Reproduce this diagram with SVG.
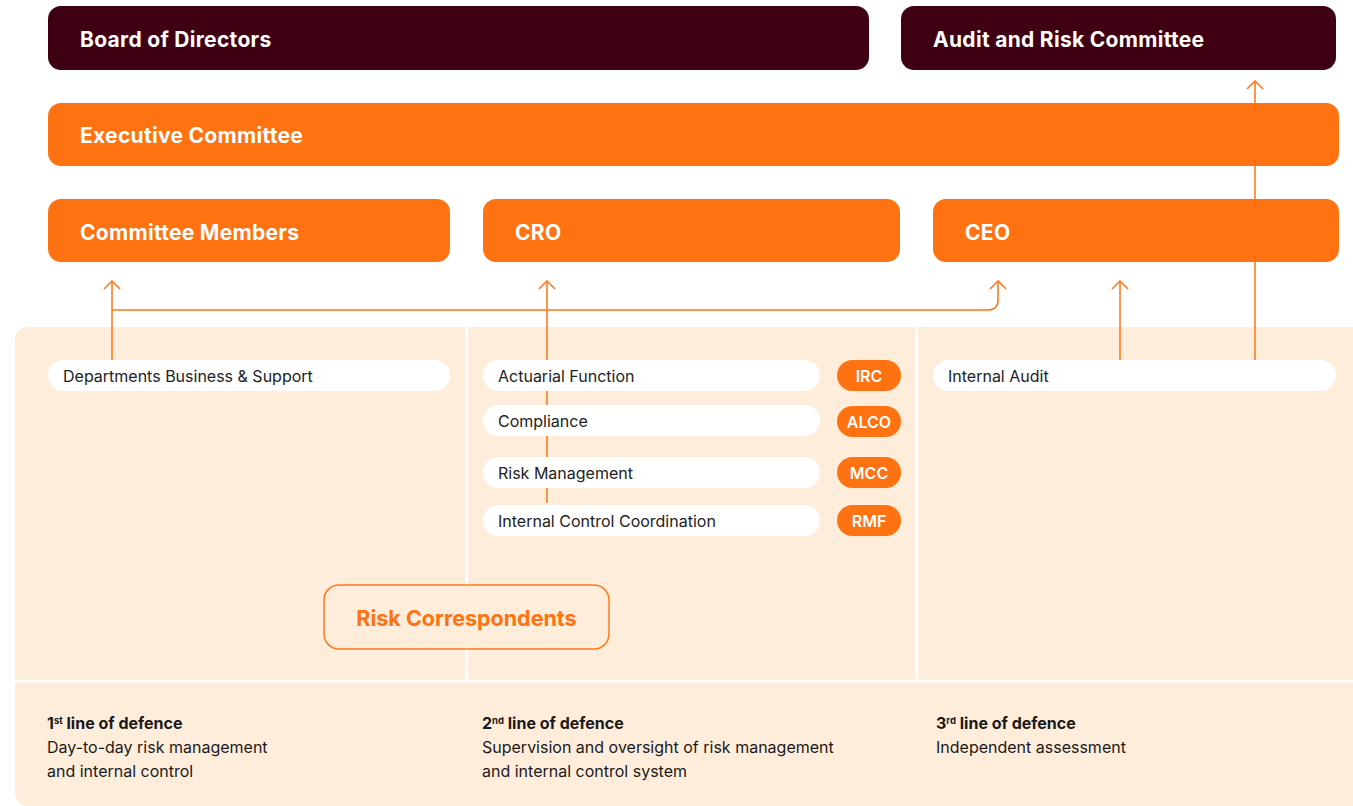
<svg xmlns="http://www.w3.org/2000/svg" width="1353" height="806" viewBox="0 0 1353 806">
  <defs>
    <style>
      .dark { fill: #3f0013; }
      .org { fill: #ff7212; }
      .pill { fill: #ffffff; }
      .head { font-family: Inter, "Noto Sans", "Liberation Sans", sans-serif; font-weight: 700; font-size: 21px; letter-spacing: 0.3px; fill: #ffffff; }
      .item { font-family: Inter, "Noto Sans", "Liberation Sans", sans-serif; font-size: 16px; fill: #222222; }
      .badge { font-family: Inter, "Noto Sans", "Liberation Sans", sans-serif; font-weight: 600; font-size: 16px; fill: #ffffff; text-anchor: middle; }
      .ttl { font-family: Inter, "Noto Sans", "Liberation Sans", sans-serif; font-weight: 700; font-size: 16px; fill: #1a1a1a; }
      .txt { font-family: Inter, "Noto Sans", "Liberation Sans", sans-serif; font-size: 16px; fill: #1a1a1a; }
      .sup { font-size: 9.5px; }
      .wire { fill: none; stroke: #ff7a1f; stroke-width: 1.6; }
    </style>
    <!-- open chevron head, drawn pointing along +x so orient="auto" follows the line -->
    <marker id="open" viewBox="0 0 10 18" refX="9" refY="9" markerWidth="10" markerHeight="18" markerUnits="userSpaceOnUse" orient="auto">
      <path d="M1 1 L9 9 L1 17" fill="none" stroke="#ff7a1f" stroke-width="1.6"/>
    </marker>
  </defs>

  <rect width="1353" height="806" fill="#ffffff"/>

  <!-- lower panel with the three lines of defence -->
  <g id="panel">
    <path d="M29 327 H1353 V806 H29 Q15 806 15 792 V341 Q15 327 29 327 Z" fill="#ffeddc"/>
    <line x1="466.5" y1="327" x2="466.5" y2="680" stroke="#ffffff" stroke-width="2.5"/>
    <line x1="916.5" y1="327" x2="916.5" y2="680" stroke="#ffffff" stroke-width="2.5"/>
    <line x1="15" y1="681" x2="1353" y2="681" stroke="#ffffff" stroke-width="2.5"/>
  </g>

  <!-- connectors -->
  <g id="connectors">
    <path class="wire" d="M112 360 V281" marker-end="url(#open)"/>
    <path class="wire" d="M112 310 H988 Q998 310 998 300 V281" marker-end="url(#open)"/>
    <path class="wire" d="M547 503 V281" marker-end="url(#open)"/>
    <path class="wire" d="M1120 360 V281" marker-end="url(#open)"/>
    <path class="wire" d="M1255 360 V81" marker-end="url(#open)"/>
  </g>

  <g id="board">
    <rect class="dark" x="48" y="6" width="821" height="64" rx="13"/>
    <text class="head" x="80" y="47">Board of Directors</text>
  </g>
  <g id="audit-risk-committee">
    <rect class="dark" x="901" y="6" width="435" height="64" rx="13"/>
    <text class="head" x="933" y="47">Audit and Risk Committee</text>
  </g>
  <g id="executive-committee">
    <rect class="org" x="48" y="103" width="1291" height="63" rx="13"/>
    <text class="head" x="80" y="143">Executive Committee</text>
  </g>
  <g id="committee-members">
    <rect class="org" x="48" y="199" width="402" height="63" rx="13"/>
    <text class="head" x="80" y="239.5">Committee Members</text>
  </g>
  <g id="cro">
    <rect class="org" x="483" y="199" width="417" height="63" rx="13"/>
    <text class="head" x="515" y="239.5">CRO</text>
  </g>
  <g id="ceo">
    <rect class="org" x="933" y="199" width="406" height="63" rx="13"/>
    <text class="head" x="965" y="239.5">CEO</text>
  </g>

  <g id="departments">
    <rect class="pill" x="48" y="360" width="402" height="31" rx="15.5"/>
    <text class="item" x="63" y="382">Departments Business &amp; Support</text>
  </g>
  <g id="actuarial">
    <rect class="pill" x="483" y="360" width="337" height="31" rx="15.5"/>
    <text class="item" x="498" y="382">Actuarial Function</text>
  </g>
  <g id="compliance">
    <rect class="pill" x="483" y="405" width="337" height="31" rx="15.5"/>
    <text class="item" x="498" y="427">Compliance</text>
  </g>
  <g id="risk-management">
    <rect class="pill" x="483" y="457" width="337" height="31" rx="15.5"/>
    <text class="item" x="498" y="479">Risk Management</text>
  </g>
  <g id="internal-control">
    <rect class="pill" x="483" y="505" width="337" height="31" rx="15.5"/>
    <text class="item" x="498" y="527">Internal Control Coordination</text>
  </g>
  <g id="irc">
    <rect class="org" x="837" y="360" width="64" height="31" rx="15.5"/>
    <text class="badge" x="869" y="382">IRC</text>
  </g>
  <g id="alco">
    <rect class="org" x="837" y="406" width="64" height="31" rx="15.5"/>
    <text class="badge" x="869" y="428">ALCO</text>
  </g>
  <g id="mcc">
    <rect class="org" x="837" y="457" width="64" height="31" rx="15.5"/>
    <text class="badge" x="869" y="479">MCC</text>
  </g>
  <g id="rmf">
    <rect class="org" x="837" y="505" width="64" height="31" rx="15.5"/>
    <text class="badge" x="869" y="527">RMF</text>
  </g>
  <g id="internal-audit">
    <rect class="pill" x="933" y="360" width="403" height="31" rx="15.5"/>
    <text class="item" x="948" y="382">Internal Audit</text>
  </g>

  <g id="risk-correspondents">
    <rect x="324" y="585" width="285" height="64" rx="15" fill="#ffeddc" stroke="#ff7a1f" stroke-width="1.5"/>
    <text x="466.5" y="625.5" text-anchor="middle" font-family="Inter, 'Noto Sans', 'Liberation Sans', sans-serif" font-weight="700" font-size="21.5" fill="#ff7212">Risk Correspondents</text>
  </g>

  <g id="first-line">
    <text class="ttl" x="47" y="729">1<tspan class="sup" dy="-5">st</tspan><tspan dy="5"> line of defence</tspan></text>
    <text class="txt" x="47" y="753">Day-to-day risk management</text>
    <text class="txt" x="47" y="777">and internal control</text>
  </g>
  <g id="second-line">
    <text class="ttl" x="482" y="729">2<tspan class="sup" dy="-5">nd</tspan><tspan dy="5"> line of defence</tspan></text>
    <text class="txt" x="482" y="753">Supervision and oversight of risk management</text>
    <text class="txt" x="482" y="777">and internal control system</text>
  </g>
  <g id="third-line">
    <text class="ttl" x="936" y="729">3<tspan class="sup" dy="-5">rd</tspan><tspan dy="5"> line of defence</tspan></text>
    <text class="txt" x="936" y="753">Independent assessment</text>
  </g>
</svg>
